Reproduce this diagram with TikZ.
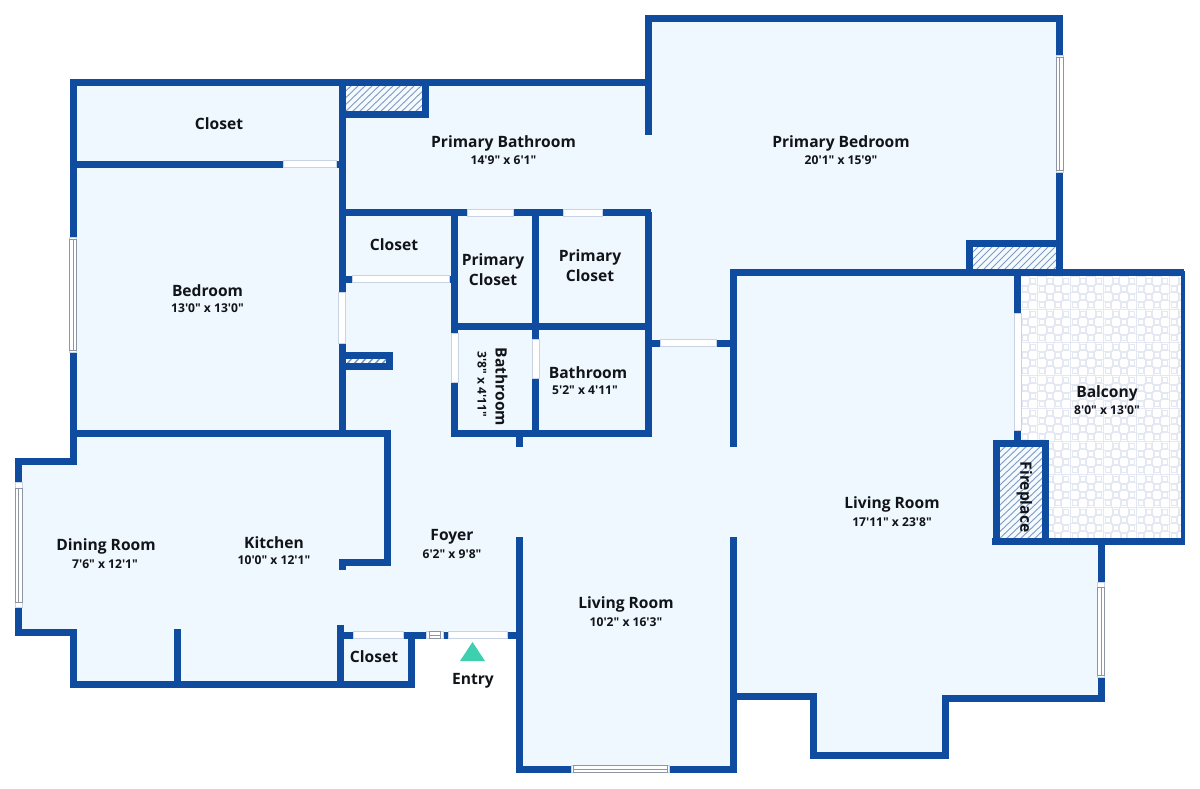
\documentclass[tikz,border=0pt]{standalone}
\usepackage{fontspec}
\newfontfamily\labfont{Open Sans}
\definecolor{wallblue}{HTML}{0F4CA0}
\definecolor{floorblue}{HTML}{EFF8FE}
\definecolor{winline}{HTML}{C9D3E6}
\definecolor{glassline}{HTML}{8E96A3}
\definecolor{tileline}{HTML}{E4E8F3}
\definecolor{hatchline}{HTML}{7F9AC4}
\definecolor{entrygreen}{HTML}{3ED0AE}
\definecolor{labelink}{HTML}{111418}
\tikzset{
  wall/.style={draw=wallblue,line width=7pt,line cap=butt,line join=miter},
  thinwall/.style={draw=wallblue,line width=4pt,line join=miter},
  winbox/.style={fill=white,draw=winline,line width=0.8pt},
  glass/.style={draw=glassline,line width=0.8pt},
  hatchfill/.style={draw=hatchline,line width=0.9pt},
  title/.style={font=\labfont\bfseries\fontsize{15.6}{18}\selectfont,text=labelink,align=center,inner sep=0pt,yshift=-1.5pt},
  dims/.style={font=\labfont\bfseries\fontsize{12.1}{14}\selectfont,text=labelink,align=center,inner sep=0pt},
}
\begin{document}
\begin{tikzpicture}[x=1pt,y=-1pt]
\useasboundingbox (0,0) rectangle (1200,788);
\fill[white] (0,0) rectangle (1200,788);
% floor
\fill[floorblue] (73,83)--(648,83)--(648,18)--(1059,18)--(1059,272)--(1018,272)--(1018,443)--(996,443)--(996,542)--(1101,542)--(1101,698)--(945,698)--(945,755)--(813,755)--(813,696)--(733,696)--(733,769)--(519,769)--(519,635)--(411,635)--(411,684)--(73,684)--(73,632)--(18,632)--(18,461)--(73,461)--cycle;
% balcony tiles
\begin{scope}
\clip (1021,276) rectangle (1181,538);
\fill[white] (1021,276) rectangle (1181,538);
\foreach \i in {0,...,20}{
  \foreach \j in {0,...,32}{
    \pgfmathsetmacro\tx{1021.5+8.25*\i}
    \pgfmathsetmacro\ty{277+8.25*\j}
    \pgfmathtruncatemacro\tilepar{mod(\i+\j,2)}
    \ifnum\tilepar=0
      \draw[tileline,line width=0.9pt] (\tx-1,\ty-1) rectangle (\tx+8,\ty+8);
    \else
      \draw[tileline,line width=0.9pt] (\tx+1,\ty+1) rectangle (\tx+6,\ty+6);
    \fi
  }
}
\end{scope}
% hatch regions
\begin{scope}
\clip (346,86) rectangle (422,111);
\fill[floorblue!70!white] (346,86) rectangle (422,111);
\foreach \k in {0,...,16}{\draw[hatchfill] (346+7*\k-30,113)--(346+7*\k,84);}
\end{scope}
\begin{scope}
\clip (973,247) rectangle (1056,269);
\fill[floorblue!70!white] (973,247) rectangle (1056,269);
\foreach \k in {0,...,18}{\draw[hatchfill] (973+7*\k-26,271)--(973+7*\k,245);}
\end{scope}
\begin{scope}
\clip (1000,447) rectangle (1042,538);
\fill[floorblue!70!white] (1000,447) rectangle (1042,538);
\foreach \k in {0,...,22}{\draw[hatchfill] (1000+7*\k-100,540)--(1000+7*\k,445);}
\end{scope}
\begin{scope}
\clip (346,358) rectangle (386,363);
\fill[white] (346,358) rectangle (386,363);
\foreach \k in {0,...,8}{\draw[hatchfill,line width=1.6pt] (346+7*\k-6,364)--(346+7*\k,357);}
\end{scope}
% outer walls
\draw[wall] (73,237)--(73,82.5)--(648,82.5);
\draw[wall] (648,135)--(648,18.5)--(1059.5,18.5)--(1059.5,55);
\draw[wall] (1059.5,172)--(1059.5,276);
\draw[wall] (73,352)--(73,461.5)--(18.5,461.5)--(18.5,482);
\draw[wall] (18.5,607)--(18.5,632.5)--(73,632.5)--(73,684)--(411,684)--(411,635);
\draw[wall] (340,625)--(340,684);
\draw[wall] (177,629)--(177,684);
\draw[wall] (519.5,537)--(519.5,769)--(571,769);
\draw[wall] (669,769)--(733,769)--(733,537);
\draw[wall] (733,696)--(813,696)--(813,755)--(945,755)--(945,698)--(1101,698)--(1101,677);
\draw[wall] (1101,582)--(1101,542);
\draw[wall] (733,447)--(733,272.5)--(1184,272.5);
\draw[thinwall] (1183,271)--(1183,544);
\draw[wall] (992,541.5)--(1185,541.5);
% small partitions
\draw[wall] (969.5,272)--(969.5,243.5)--(1059.5,243.5);
\draw[wall] (1017.5,272)--(1017.5,313);
\draw[wall] (1017.5,430)--(1017.5,443);
\draw[wall] (996,440)--(996,545);
\draw[wall] (1045.5,440)--(1045.5,545);
\draw[wall] (992.5,443.5)--(1049,443.5);
\draw[wall] (342,135)--(342,83);
\draw[wall] (342,114.5)--(425.5,114.5)--(425.5,83);
% interior walls
\draw[wall] (73,164)--(283,164);
\draw[wall] (336,164)--(342,164);
\draw[wall] (342,114)--(342,292);
\draw[wall] (342,343)--(342,437);
\draw[wall] (342,212.5)--(467,212.5);
\draw[wall] (513,212.5)--(563,212.5);
\draw[wall] (602,212.5)--(651,212.5);
\draw[wall] (342,279)--(352,279);
\draw[wall] (449,279)--(455,279);
\draw[wall] (454.5,212)--(454.5,333);
\draw[wall] (454.5,382)--(454.5,437);
\draw[wall] (535.5,212)--(535.5,339);
\draw[wall] (535.5,378)--(535.5,437);
\draw[wall] (451,326.5)--(651,326.5);
\draw[wall] (648,212)--(648,437);
\draw[wall] (451,433.5)--(651,433.5);
\draw[wall] (519.5,433)--(519.5,447);
\draw[wall] (648,343)--(660,343);
\draw[wall] (716,343)--(733,343);
\draw[wall] (73,433.5)--(387.5,433.5)--(387.5,562)--(342,562)--(342,570);
\draw[wall] (340,635)--(353,635);
\draw[wall] (403,635)--(426,635);
\draw[wall] (443,635)--(448,635);
\draw[wall] (507,635)--(523,635);
% small fitted hatch box
\draw[wall] (346,355)--(389.5,355)--(389.5,366.5)--(346,366.5);
% plain windows
\draw[winbox] (283,160.5) rectangle (336,167.5);
\draw[winbox] (467,209) rectangle (513,216);
\draw[winbox] (563,209) rectangle (602,216);
\draw[winbox] (352,275.5) rectangle (449,282.5);
\draw[winbox] (338.5,292) rectangle (345.5,343);
\draw[winbox] (451,333) rectangle (458,382);
\draw[winbox] (532,339) rectangle (539,378);
\draw[winbox] (660,339.5) rectangle (716,346.5);
\draw[winbox] (1014,313) rectangle (1021,430);
\draw[winbox] (353,631.5) rectangle (403,638.5);
\draw[winbox] (448,631.5) rectangle (507,638.5);
% glazed windows
\draw[winbox] (1056,55) rectangle (1063,172);
\draw[glass] (1056,57) rectangle (1063,170) (1059.5,57)--(1059.5,170);
\draw[winbox] (69.5,237) rectangle (76.5,352);
\draw[glass] (69.5,239) rectangle (76.5,350) (73,239)--(73,350);
\draw[winbox] (15,482) rectangle (22,607);
\draw[glass] (15,488) rectangle (22,602) (18.5,488)--(18.5,602);
\draw[winbox] (1097.5,582) rectangle (1104.5,677);
\draw[glass] (1097.5,587) rectangle (1104.5,675) (1101,587)--(1101,675);
\draw[winbox] (571,765.5) rectangle (669,772.5);
\draw[glass] (573,765.5) rectangle (667,772.5) (573,769)--(667,769);
\draw[winbox] (426,631.5) rectangle (443,638.5);
\draw[glass] (429,631.5) rectangle (440,638.5) (429,635)--(440,635);
% entry marker
\fill[entrygreen] (460,661)--(472.5,642)--(485,661)--cycle;
% labels
\node[title] (closetA) at (219,122) {Closet};
\node[title] (pbath) at (503.5,142) {Primary Bathroom};
\node[dims] (pbathd) at (503.5,160) {14'9" x 6'1"};
\node[title] (pbed) at (841,142) {Primary Bedroom};
\node[dims] (pbedd) at (841,160) {20'1" x 15'9"};
\node[title] (closetB) at (394,243) {Closet};
\node[title] (pclosetA) at (493,268) {Primary\\[2pt]Closet};
\node[title] (pclosetB) at (590,264.5) {Primary\\[2pt]Closet};
\node[title] (bed) at (207.5,289) {Bedroom};
\node[dims] (bedd) at (207.5,308) {13'0" x 13'0"};
\node[title,rotate=-90,xshift=1.5pt,yshift=1.5pt] (bathA) at (500,384) {Bathroom};
\node[dims,rotate=-90] (bathAd) at (482,384) {3'8" x 4'11"};
\node[title] (bathB) at (588,371) {Bathroom};
\node[dims] (bathBd) at (585,390.5) {5'2" x 4'11"};
\node[title] (balc) at (1107,392) {Balcony};
\node[dims] (balcd) at (1107,410) {8'0" x 13'0"};
\node[title,rotate=-90,xshift=1.5pt,yshift=1.5pt] (fire) at (1023,494) {Fireplace};
\node[title] (living) at (892,503) {Living Room};
\node[dims] (livingd) at (892,522) {17'11" x 23'8"};
\node[title] (foyer) at (452,535) {Foyer};
\node[dims] (foyerd) at (452,554) {6'2" x 9'8"};
\node[title] (dining) at (106,545) {Dining Room};
\node[dims] (diningd) at (105,564) {7'6" x 12'1"};
\node[title] (kitchen) at (274,541) {Kitchen};
\node[dims] (kitchend) at (274,560) {10'0" x 12'1"};
\node[title] (livingB) at (626,603) {Living Room};
\node[dims] (livingBd) at (626,622) {10'2" x 16'3"};
\node[title] (closetC) at (374,655) {Closet};
\node[title] (entry) at (473,679) {Entry};
\end{tikzpicture}
\end{document}
